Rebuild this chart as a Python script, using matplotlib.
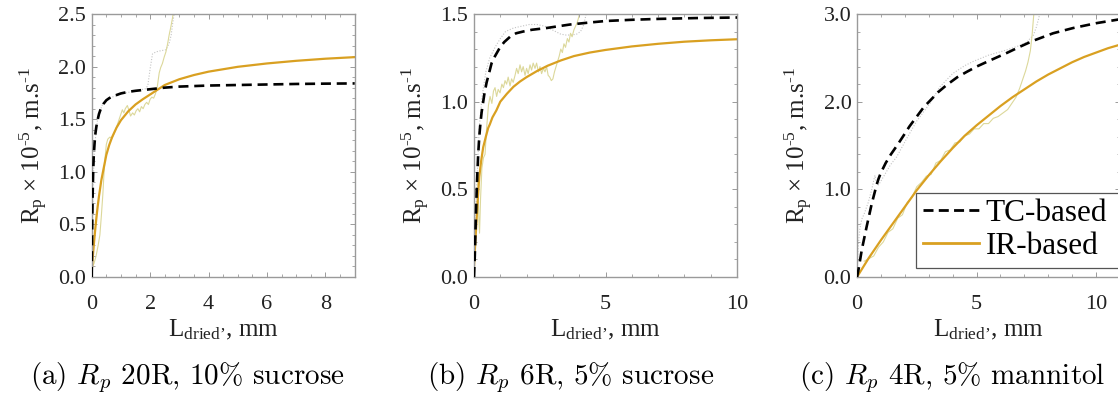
import matplotlib
matplotlib.use("Agg")
import matplotlib.pyplot as plt
from matplotlib.lines import Line2D
from matplotlib.ticker import MultipleLocator, FormatStrFormatter

plt.rcParams['font.family'] = ['Liberation Serif', 'DejaVu Serif']
plt.rcParams['mathtext.fontset'] = 'custom'
plt.rcParams['mathtext.rm'] = 'Liberation Serif'
plt.rcParams['mathtext.it'] = 'Liberation Serif:italic'

# ---------------- data: panel (a) 20R, 10% sucrose ----------------
a_tc_x = [0, 0.01, 0.02, 0.03, 0.05, 0.07, 0.10, 0.13, 0.16, 0.20, 0.25, 0.30, 0.35, 0.40, 0.50, 0.60, 0.70, 0.85,
          1.0, 1.25, 1.5, 2.0, 2.5, 3.0, 4.0, 5.0, 6.0, 7.0, 8.0, 9.0]
a_tc_y = [0, 0.30, 0.55, 0.75, 1.00, 1.15, 1.28, 1.37, 1.43, 1.49, 1.55, 1.59, 1.62, 1.645, 1.68, 1.70, 1.715, 1.73,
          1.745, 1.76, 1.77, 1.785, 1.80, 1.81, 1.82, 1.825, 1.83, 1.835, 1.838, 1.84]
a_ir_x = [0, 0.02, 0.04, 0.08, 0.12, 0.16, 0.20, 0.25, 0.33, 0.40, 0.50, 0.60, 0.70, 0.85, 1.0, 1.25, 1.5, 1.75,
          2.0, 2.25, 2.5, 3.0, 3.5, 4.0, 5.0, 6.0, 7.0, 8.0, 9.0]
a_ir_y = [0.05, 0.13, 0.20, 0.33, 0.45, 0.56, 0.66, 0.77, 0.92, 1.02, 1.16, 1.255, 1.33, 1.42, 1.49, 1.575, 1.64, 1.69,
          1.735, 1.78, 1.825, 1.88, 1.92, 1.952, 1.998, 2.03, 2.055, 2.075, 2.09]
a_raw_tc_x = [0, 0.02, 0.05, 0.10, 0.20, 0.35, 0.60, 1.0, 1.5, 1.85, 1.92, 2.0, 2.08, 2.2, 2.35, 2.54, 2.65, 2.72, 2.77, 2.82, 2.88]
a_raw_tc_y = [0, 0.40, 0.90, 1.25, 1.50, 1.63, 1.70, 1.74, 1.77, 1.79, 1.82, 1.98, 2.12, 2.14, 2.15, 2.16, 2.22, 2.30, 2.41, 2.50, 2.60]
a_raw_ir_x = [0.03, 0.08, 0.15, 0.22, 0.28, 0.33, 0.38, 0.42, 0.46, 0.50, 0.55, 0.62, 0.70, 0.76, 0.82, 0.88, 0.94, 1.00,
              1.05, 1.10, 1.15, 1.22, 1.28, 1.33, 1.40, 1.46, 1.52, 1.58, 1.64, 1.70, 1.76, 1.82, 1.88, 1.94, 2.00,
              2.06, 2.12, 2.18, 2.24, 2.31, 2.36, 2.42, 2.48, 2.54, 2.60, 2.65, 2.71, 2.77, 2.82]
a_raw_ir_y = [0.10, 0.13, 0.20, 0.30, 0.40, 0.58, 0.78, 0.98, 1.14, 1.26, 1.31, 1.33, 1.32, 1.36, 1.40, 1.45, 1.50, 1.55,
              1.59, 1.56, 1.60, 1.63, 1.58, 1.53, 1.56, 1.54, 1.58, 1.60, 1.57, 1.62, 1.60, 1.64, 1.66, 1.64, 1.69,
              1.71, 1.70, 1.74, 1.80, 1.94, 1.99, 2.03, 2.09, 2.14, 2.22, 2.30, 2.38, 2.47, 2.58]

# ---------------- data: panel (b) 6R, 5% sucrose ----------------
b_tc_x = [0, 0.03, 0.05, 0.08, 0.10, 0.13, 0.16, 0.20, 0.24, 0.29, 0.35, 0.40, 0.48, 0.55, 0.67, 0.80, 0.99, 1.15,
          1.37, 1.6, 1.87, 2.2, 2.76, 3.2, 3.65, 4.3, 5.0, 6.0, 7.0, 8.5, 10.0]
b_tc_y = [0, 0.12, 0.23, 0.38, 0.48, 0.60, 0.70, 0.80, 0.87, 0.94, 1.00, 1.05, 1.11, 1.15, 1.22, 1.26, 1.31, 1.34,
          1.37, 1.39, 1.40, 1.41, 1.42, 1.43, 1.44, 1.45, 1.46, 1.467, 1.472, 1.477, 1.48]
b_ir_x = [0, 0.05, 0.10, 0.15, 0.20, 0.27, 0.35, 0.45, 0.54, 0.60, 0.70, 0.85, 1.0, 1.25, 1.5, 1.75, 2.0, 2.4, 2.8,
          3.3, 3.8, 4.4, 5.0, 6.0, 7.0, 8.0, 9.0, 10.0]
b_ir_y = [0.06, 0.20, 0.33, 0.46, 0.57, 0.66, 0.74, 0.80, 0.85, 0.87, 0.91, 0.95, 1.0, 1.045, 1.085, 1.115, 1.14, 1.175,
          1.205, 1.235, 1.26, 1.28, 1.295, 1.315, 1.33, 1.342, 1.35, 1.356]
b_raw_tc_x = [0, 0.05, 0.10, 0.20, 0.30, 0.45, 0.60, 0.80, 1.0, 1.2, 1.5, 1.8, 2.1, 2.4, 2.7, 2.9, 3.1, 3.3, 3.5, 3.7, 3.9,
              4.05, 4.15, 4.22, 4.28, 4.34]
b_raw_tc_y = [0, 0.25, 0.50, 0.85, 1.02, 1.17, 1.25, 1.31, 1.36, 1.40, 1.42, 1.43, 1.44, 1.44, 1.43, 1.415, 1.40, 1.385,
              1.38, 1.38, 1.385, 1.40, 1.43, 1.47, 1.51, 1.55]
b_raw_ir_x = [0.15, 0.18, 0.21, 0.25, 0.30, 0.36, 0.42, 0.48, 0.55, 0.61, 0.68, 0.74, 0.80, 0.86, 0.92, 0.99, 1.06, 1.12,
              1.18, 1.24, 1.30, 1.37, 1.43, 1.49, 1.56, 1.62, 1.68, 1.75, 1.81, 1.87, 1.94, 2.00, 2.06, 2.13, 2.19,
              2.25, 2.32, 2.38, 2.45, 2.51, 2.57, 2.64, 2.70, 2.76, 2.82, 2.88, 2.94, 3.00, 3.06, 3.12, 3.18, 3.24,
              3.30, 3.36, 3.42, 3.48, 3.55, 3.61, 3.67, 3.73, 3.80, 3.86, 3.92, 3.98, 4.04, 4.08]
b_raw_ir_y = [0.55, 0.35, 0.25, 0.45, 0.62, 0.68, 0.70, 0.85, 0.98, 1.03, 0.99, 1.06, 1.08, 1.03, 1.07, 1.05, 1.10, 1.08,
              1.12, 1.10, 1.14, 1.09, 1.13, 1.11, 1.15, 1.19, 1.16, 1.21, 1.17, 1.20, 1.15, 1.19, 1.16, 1.21, 1.18,
              1.22, 1.19, 1.22, 1.17, 1.20, 1.16, 1.19, 1.17, 1.20, 1.15, 1.14, 1.12, 1.13, 1.17, 1.20, 1.23, 1.26,
              1.30, 1.28, 1.33, 1.31, 1.36, 1.34, 1.39, 1.37, 1.41, 1.43, 1.45, 1.48, 1.52, 1.56]

# ---------------- data: panel (c) 4R, 5% mannitol ----------------
c_tc_x = [0, 0.06, 0.20, 0.40, 0.62, 0.82, 0.90, 1.0, 1.2, 1.42, 1.7, 1.94, 2.2, 2.5, 2.8, 3.05, 3.4, 3.75, 4.2, 4.59,
          5.0, 5.56, 6.26, 6.8, 7.37, 8.2, 9.04, 10.0, 11.0]
c_tc_y = [0, 0.08, 0.31, 0.57, 0.84, 1.05, 1.12, 1.19, 1.30, 1.40, 1.51, 1.61, 1.72, 1.83, 1.94, 2.01, 2.11, 2.19, 2.28,
          2.34, 2.40, 2.47, 2.555, 2.625, 2.695, 2.78, 2.84, 2.895, 2.94]
c_ir_x = [0, 0.5, 1.0, 1.5, 2.0, 2.5, 3.0, 3.5, 4.0, 4.5, 5.0, 5.5, 6.0, 6.5, 7.0, 7.5, 8.0, 8.5, 9.0, 9.5, 10.0, 10.5, 11.0]
c_ir_y = [0, 0.22, 0.42, 0.61, 0.80, 0.99, 1.16, 1.32, 1.47, 1.61, 1.73, 1.84, 1.95, 2.05, 2.14, 2.23, 2.31, 2.38, 2.45,
          2.51, 2.56, 2.61, 2.65]
c_raw_tc_x = [0, 0.02, 0.06, 0.12, 0.20, 0.30, 0.47, 0.60, 0.70, 0.75, 0.80, 0.90, 1.10, 1.40, 1.66, 2.08, 2.50, 3.05,
              3.47, 4.0, 4.5, 4.87, 5.5, 6.26, 6.8, 7.1, 7.38, 7.5, 7.6, 7.68]
c_raw_tc_y = [0, 0.20, 0.38, 0.55, 0.66, 0.72, 0.85, 0.98, 1.10, 1.16, 1.08, 1.05, 1.14, 1.28, 1.37, 1.58, 1.78, 1.98,
              2.17, 2.32, 2.41, 2.46, 2.53, 2.59, 2.64, 2.68, 2.76, 2.85, 2.95, 3.05]
c_raw_ir_x = [0.30, 0.50, 0.70, 0.90, 1.10, 1.30, 1.50, 1.70, 1.90, 2.10, 2.30, 2.50, 2.70, 2.90, 3.10, 3.30, 3.50,
              3.70, 3.90, 4.10, 4.30, 4.50, 4.70, 4.90, 5.10, 5.30, 5.50, 5.70, 5.90, 6.10, 6.30, 6.50, 6.65,
              6.80, 6.95, 7.05, 7.15, 7.25, 7.32, 7.38, 7.43]
c_raw_ir_y = [0.18, 0.21, 0.24, 0.34, 0.40, 0.51, 0.55, 0.67, 0.71, 0.85, 0.91, 1.03, 1.08, 1.15, 1.17, 1.30, 1.33,
              1.43, 1.45, 1.53, 1.54, 1.61, 1.63, 1.69, 1.69, 1.75, 1.75, 1.81, 1.83, 1.87, 1.91, 1.99, 2.05,
              2.15, 2.27, 2.35, 2.45, 2.58, 2.75, 2.95, 3.10]

panels = [
    dict(tc=(a_tc_x, a_tc_y), ir=(a_ir_x, a_ir_y), rtc=(a_raw_tc_x, a_raw_tc_y), rir=(a_raw_ir_x, a_raw_ir_y),
         xlim=(0, 9), ylim=(0, 2.5), xmaj=2, xmin=0.5, ymaj=0.5, ymin=0.1),
    dict(tc=(b_tc_x, b_tc_y), ir=(b_ir_x, b_ir_y), rtc=(b_raw_tc_x, b_raw_tc_y), rir=(b_raw_ir_x, b_raw_ir_y),
         xlim=(0, 10), ylim=(0, 1.5), xmaj=5, xmin=1, ymaj=0.5, ymin=0.1),
    dict(tc=(c_tc_x, c_tc_y), ir=(c_ir_x, c_ir_y), rtc=(c_raw_tc_x, c_raw_tc_y), rir=(c_raw_ir_x, c_raw_ir_y),
         xlim=(0, 11), ylim=(0, 3.0), xmaj=5, xmin=1, ymaj=1.0, ymin=0.2),
]
captions = [r"(a) $R_p$ 20R, 10% sucrose", r"(b) $R_p$ 6R, 5% sucrose", r"(c) $R_p$ 4R, 5% mannitol"]
legend_labels = ['TC-based', 'IR-based']

W, H = 1118, 401
fig = plt.figure(figsize=(W / 100, H / 100), dpi=100)
lefts = [91.7, 474, 857]
axw, axh = 263, 263
bottom_px = 277

gold = '#D9A021'
spine_c = '#9a9a9a'
txt_c = '#222222'
for i, p in enumerate(panels):
    ax = fig.add_axes([lefts[i] / W, (H - bottom_px) / H, axw / W, axh / H])
    ax.plot(*p['rtc'], color='#c4c4c4', lw=0.8, ls=(0, (1, 1.5)), zorder=1)
    ax.plot(*p['rir'], color='#dcd89a', lw=0.8, zorder=1)
    ax.plot(*p['tc'], color='black', lw=1.9, dashes=(3.8, 2.2), zorder=3)
    ax.plot(*p['ir'], color=gold, lw=1.6, zorder=2)
    ax.set_xlim(*p['xlim'])
    ax.set_ylim(*p['ylim'])
    ax.xaxis.set_major_locator(MultipleLocator(p['xmaj']))
    ax.xaxis.set_minor_locator(MultipleLocator(p['xmin']))
    ax.yaxis.set_major_locator(MultipleLocator(p['ymaj']))
    ax.yaxis.set_minor_locator(MultipleLocator(p['ymin']))
    ax.yaxis.set_major_formatter(FormatStrFormatter('%.1f'))
    ax.tick_params(which='both', direction='in', top=True, right=True, colors=spine_c,
                   labelcolor=txt_c, labelsize=16)
    ax.tick_params(which='major', length=3.5, width=0.7)
    ax.tick_params(which='minor', length=2.0, width=0.6)
    ax.tick_params(axis='x', pad=13)
    ax.tick_params(axis='y', pad=4)
    for s in ax.spines.values():
        s.set_color(spine_c)
        s.set_linewidth(1.0)
    ax.set_xlabel(r"L$_\mathregular{dried’}$, mm", fontsize=18, color=txt_c, labelpad=3)
    ax.set_ylabel("R$_\\mathregular{p}$ × 10$^\\mathregular{\u20105}$, m.s$^\\mathregular{\u20101}$", fontsize=18,
                  color=txt_c)
    ax.yaxis.set_label_coords(-0.158, 0.5)
    if i == 2:
        handles = [Line2D([], [], color='black', lw=2.0, dashes=(3.6, 1.9)),
                   Line2D([], [], color=gold, lw=2.0)]
        x0 = (915.7 - lefts[2]) / axw
        leg = ax.legend(handles, legend_labels, loc='lower left',
                        bbox_to_anchor=(x0, 9 / 263, 1.03 - x0, 0.2), mode='expand',
                        borderaxespad=0, fontsize=22.5, fancybox=False, framealpha=1,
                        edgecolor='#555555', handlelength=1.8, handletextpad=0.22,
                        borderpad=0.22, labelspacing=0.12)
        leg.get_frame().set_linewidth(0.9)

cap_x = [187, 571, 952]
for cx, cap in zip(cap_x, captions):
    fig.text(cx / W, 1 - 378 / H, cap, ha='center', va='center', fontsize=21,
             family='cmr10', math_fontfamily='cm')

fig.savefig('out.png', dpi=100)
